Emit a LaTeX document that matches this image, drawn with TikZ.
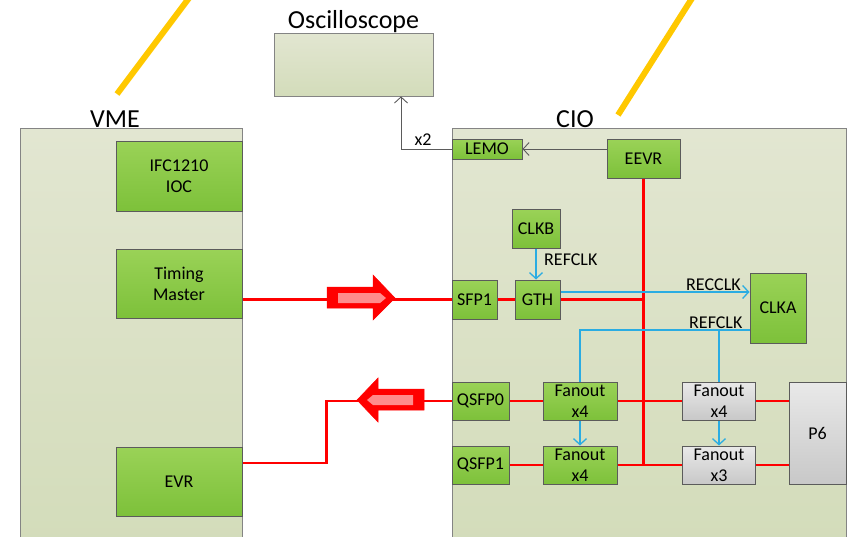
\documentclass[tikz,border=0pt]{standalone}
\usepackage{fontspec}
\setmainfont{Carlito}
\usetikzlibrary{arrows.meta}
\definecolor{bgcA}{HTML}{E2E6D1}
\definecolor{bgcB}{HTML}{D3DCBA}
\definecolor{grA}{HTML}{9AD257}
\definecolor{grB}{HTML}{7DC13A}
\definecolor{gyA}{HTML}{E9E9E9}
\definecolor{gyB}{HTML}{C8C8C8}
\definecolor{bord}{HTML}{5B5B5B}
\definecolor{clk}{HTML}{2AACE2}
\definecolor{yel}{HTML}{FFC800}
\definecolor{pinkf}{HTML}{FF8C8C}
\begin{document}
\begin{tikzpicture}[x=1pt,y=-1pt,
  every node/.style={font=\fontsize{18}{21}\selectfont, inner sep=0pt, align=center},
  wh/.style 2 args={minimum width=#1pt, minimum height=#2pt},
  container/.style={draw=bord!75, line width=0.8pt, top color=bgcA, bottom color=bgcB},
  grbox/.style={draw=bord, line width=1pt, top color=grA, bottom color=grB},
  gybox/.style={draw=bord, line width=1pt, top color=gyA, bottom color=gyB},
  title/.style={font=\fontsize{26}{30}\selectfont},
  sig/.style={red, line width=2.2pt},
  clkline/.style={clk, line width=1.3pt},
  clkarr/.style={clkline, -{Straight Barb[length=6pt,width=13pt]}},
  gyarr/.style={bord, line width=0.9pt, -{Straight Barb[length=6pt,width=13pt]}},
  bigarrow/.style={fill=red, draw=red, line width=0.5pt},
  bigcore/.style={fill=pinkf},
  beam/.style={yel, line width=6pt}
]
\useasboundingbox (0,0) rectangle (854,536);

% beams
\draw[beam] (117,94) -- (192,-6);
\draw[beam] (618,115) -- (696,-8);

% containers
\node[container, wh={159}{63}] (scope) at (353.5,64.5) {};
\node[title, anchor=south] (scopet) at (353.5,33) {Oscilloscope};
\node[container, wh={222}{420}] (vme) at (131,338) {};
\node[title, anchor=south] (vmet) at (115,128) {VME};
\node[container, wh={394}{420}] (cio) at (649,338) {};
\node[title, anchor=south] (ciot) at (575,128) {CIO};

% VME boxes
\node[grbox, wh={126}{70}] (ifc) at (179,176) {IFC1210\\IOC};
\node[grbox, wh={126}{69}] (tm) at (179,283.5) {Timing\\Master};
\node[grbox, wh={126}{69}] (evr) at (179,481.5) {EVR};

% CIO boxes
\node[grbox, wh={70}{20}] (lemo) at (487,149) {LEMO};
\node[grbox, wh={73}{39}] (eevr) at (643.5,158.5) {EEVR};
\node[grbox, wh={48}{39}] (clkb) at (536,228.5) {CLKB};
\node[grbox, wh={45}{39}] (gth) at (537.5,299.5) {GTH};
\node[grbox, wh={45}{39}] (sfp1) at (474.5,299.5) {SFP1};
\node[grbox, wh={56}{70}] (clka) at (778,308) {CLKA};
\node[grbox, wh={57}{38}] (qsfp0) at (480.5,401) {QSFP0};
\node[grbox, wh={57}{38}] (qsfp1) at (480.5,465) {QSFP1};
\node[grbox, wh={74}{38}] (fo1) at (580,401) {Fanout\\x4};
\node[grbox, wh={74}{38}] (fo2) at (580,465) {Fanout\\x4};
\node[gybox, wh={73}{38}] (fo3) at (719,401) {Fanout\\x4};
\node[gybox, wh={73}{38}] (fo4) at (719,465) {Fanout\\x3};
\node[gybox, wh={57}{102}] (p6) at (817.5,433) {P6};

% gray connectors
\draw[gyarr] (eevr.west |- lemo.east) -- (lemo.east);
\draw[gyarr] (lemo.west) -| ([xshift=47.5pt]scope.south);
\node (x2) at (423,140) {x2};

% red signal lines
\draw[sig] (sfp1.west) -- (sfp1.west -| tm.east);
\draw[sig] (sfp1.east) -- (gth.west);
\draw[sig] (gth.east) -- (gth.east -| eevr.south);
\draw[sig] (eevr.south) -- (eevr.south |- fo2.east);
\draw[sig] (qsfp0.east) -- (fo1.west);
\draw[sig] (qsfp1.east) -- (fo2.west);
\draw[sig] (fo1.east) -- (fo3.west);
\draw[sig] (fo2.east) -- (fo4.west);
\draw[sig] (fo3.east) -- (fo3.east -| p6.west);
\draw[sig] (fo4.east) -- (fo4.east -| p6.west);
\draw[sig] (qsfp0.west) -| ([xshift=84pt,yshift=18.5pt]evr.east) -- ([yshift=18.5pt]evr.east);

% big arrows
\draw[bigarrow] (327,287) -- (373,287) -- (373,275) -- (395,298) -- (373,320) -- (373,308) -- (327,308) -- cycle;
\fill[bigcore] (338,293) -- (380,293) -- (386,298) -- (380,303) -- (338,303) -- cycle;
\draw[bigarrow] (424,389) -- (378,389) -- (378,378) -- (357,400) -- (378,422) -- (378,410) -- (424,410) -- cycle;
\fill[bigcore] (413,395) -- (373,395) -- (367,400) -- (373,405) -- (413,405) -- cycle;

% clock lines
\draw[clkarr] (clkb.south) -- (clkb.south |- gth.north);
\node[anchor=west] (lref1) at (544,260) {REFCLK};
\draw[clkarr] ([yshift=7.5pt]gth.east) -- ([yshift=7.5pt]gth.east -| clka.west);
\node[anchor=west] (lrec) at (686,285) {RECCLK};
\draw[clkline] ([yshift=-22pt]clka.west) -| (fo1.north);
\draw[clkline] ([yshift=-22pt]clka.west) -| (fo3.north);
\node[anchor=west] (lref2) at (689,323) {REFCLK};
\draw[clkarr] (fo1.south) -- (fo2.north);
\draw[clkarr] (fo3.south) -- (fo4.north);
\end{tikzpicture}
\end{document}
